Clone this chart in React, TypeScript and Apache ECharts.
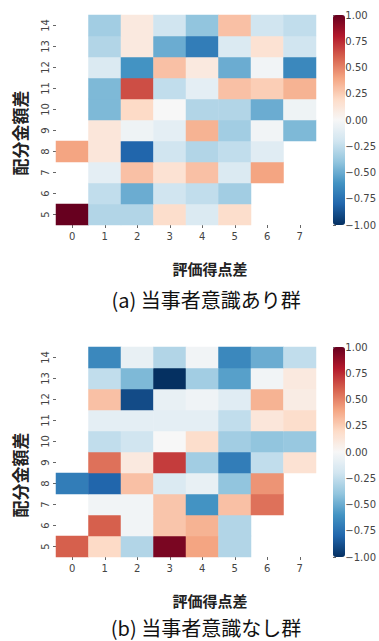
import React, { useEffect, useRef } from "react";
import * as echarts from "echarts";

const xCategories = ["0", "1", "2", "3", "4", "5", "6", "7"];
const yCategories = ["5", "6", "7", "8", "9", "10", "11", "12", "13", "14"];
const colorbarMin = -1;
const colorbarMax = 1;
const colorbarStep = 0.25;

// rows from 配分金額差 = 5 (bottom) to 14 (top); null = empty cell
const groupARows: (number | null)[][] = [
  [1.0, -0.3, -0.3, 0.18, -0.15, 0.18, null, null],
  [null, -0.25, -0.5, -0.2, -0.25, -0.35, null, null],
  [null, -0.1, 0.3, 0.15, 0.3, -0.15, 0.4, null],
  [0.4, 0.12, -0.8, -0.2, -0.3, -0.25, -0.12, null],
  [null, 0.12, -0.05, -0.1, 0.35, -0.35, -0.03, -0.45],
  [null, -0.45, 0.2, 0.0, -0.3, -0.3, -0.5, -0.05],
  [null, -0.45, 0.65, -0.25, -0.1, 0.3, 0.25, 0.35],
  [null, -0.15, -0.6, 0.3, 0.1, -0.5, -0.03, -0.65],
  [null, -0.3, 0.1, -0.5, -0.7, -0.15, 0.15, -0.2],
  [null, -0.35, 0.1, -0.2, -0.4, 0.3, -0.2, -0.25],
];

const groupBRows: (number | null)[][] = [
  [0.6, 0.2, -0.3, 0.95, 0.4, -0.3, null, null],
  [null, 0.6, -0.03, 0.28, 0.35, -0.3, null, null],
  [null, -0.03, -0.03, 0.28, -0.6, 0.3, 0.55, null],
  [-0.7, -0.8, 0.3, -0.15, -0.08, -0.4, 0.45, null],
  [null, 0.55, 0.1, 0.7, -0.35, -0.7, -0.25, 0.15],
  [null, -0.25, -0.2, 0.0, 0.18, -0.35, -0.4, -0.38],
  [null, -0.1, -0.1, -0.1, -0.1, -0.25, 0.12, 0.18],
  [null, 0.3, -0.9, -0.08, -0.04, -0.12, 0.35, 0.08],
  [null, -0.25, -0.45, -1.0, -0.35, -0.55, -0.03, 0.1],
  [null, -0.65, -0.08, -0.3, -0.03, -0.65, -0.5, -0.25],
];

const xAxisTitle = "評価得点差";
const yAxisTitle = "配分金額差";
const subtitles = ["(a) 当事者意識あり群", "(b) 当事者意識なし群"];

const rdBuR = [
  "#053061", "#2166ac", "#4393c3", "#92c5de", "#d1e5f0", "#f7f7f7",
  "#fddbc7", "#f4a582", "#d6604d", "#b2182b", "#67001f",
];

function toCells(rows: (number | null)[][]) {
  const out: [number, number, number][] = [];
  rows.forEach((row, yi) =>
    row.forEach((v, xi) => {
      if (v !== null) out.push([xi, yi, v]);
    })
  );
  return out;
}

const NUM_FONT = "DejaVu Sans";
const CJK_FONT = "Noto Sans CJK JP";

export default function App() {
  const ref = useRef<HTMLDivElement>(null);
  useEffect(() => {
    if (!ref.current) return;
    const chart = echarts.init(ref.current, undefined, { renderer: "svg" });
    const panels = [
      { top: 15, rows: groupARows, yTitleOff: 118, subOff: 284 },
      { top: 347, rows: groupBRows, yTitleOff: 128, subOff: 280 },
    ];
    const gridH = 210;
    const grids: any[] = [];
    const xAxes: any[] = [];
    const yAxes: any[] = [];
    const series: any[] = [];
    const visualMaps: any[] = [];
    const graphics: any[] = [];
    panels.forEach((p, i) => {
      grids.push({ left: 56, top: p.top, width: 260, height: gridH });
      grids.push({ left: 333, top: p.top, width: 12, height: gridH });
      xAxes.push({
        type: "category",
        gridIndex: 2 * i,
        data: xCategories,
        axisLine: { show: false },
        axisTick: { show: true, alignWithLabel: true, length: 3, lineStyle: { color: "#666" } },
        axisLabel: { fontSize: 10, color: "#444", fontFamily: NUM_FONT, margin: 6 },
        splitLine: { show: false },
      });
      xAxes.push({ type: "value", gridIndex: 2 * i + 1, show: false, min: 0, max: 1 });
      yAxes.push({
        type: "category",
        gridIndex: 2 * i,
        data: yCategories,
        axisLine: { show: false },
        axisTick: { show: true, alignWithLabel: true, length: 3, lineStyle: { color: "#666" } },
        axisLabel: { fontSize: 10, color: "#444", fontFamily: NUM_FONT, rotate: 90, margin: 6 },
        splitLine: { show: false },
      });
      yAxes.push({
        type: "value",
        gridIndex: 2 * i + 1,
        position: "right",
        min: colorbarMin,
        max: colorbarMax,
        interval: colorbarStep,
        axisLine: { show: false },
        axisTick: { show: true, length: 3, lineStyle: { color: "#666" } },
        axisLabel: {
          fontSize: 10,
          color: "#444",
          fontFamily: NUM_FONT,
          margin: 3,
          formatter: (v: number) => v.toFixed(2).replace("-", "\u2212"),
        },
        splitLine: { show: false },
      });
      series.push({
        type: "heatmap",
        xAxisIndex: 2 * i,
        yAxisIndex: 2 * i,
        data: toCells(p.rows),
        itemStyle: { borderWidth: 0 },
        emphasis: { disabled: true },
      });
      visualMaps.push({
        type: "continuous",
        seriesIndex: i,
        min: colorbarMin,
        max: colorbarMax,
        calculable: false,
        hoverLink: false,
        left: 333,
        top: p.top,
        itemWidth: 12,
        itemHeight: gridH,
        padding: 0,
        inRange: { color: rdBuR },
        textStyle: { color: "transparent" },
      });
      graphics.push({
        type: "text",
        x: 19,
        y: p.top + p.yTitleOff,
        rotation: Math.PI / 2,
        style: {
          text: yAxisTitle,
          font: `bold 17px "${CJK_FONT}"`,
          fill: "#222",
          textAlign: "center",
          textVerticalAlign: "middle",
        },
      });
      graphics.push({
        type: "text",
        x: 210,
        y: p.top + 253,
        style: {
          text: xAxisTitle,
          font: `bold 15px "${CJK_FONT}"`,
          fill: "#222",
          textAlign: "center",
          textVerticalAlign: "middle",
        },
      });
      graphics.push({
        type: "text",
        x: 206,
        y: p.top + p.subOff,
        style: {
          text: subtitles[i],
          font: `20px "${CJK_FONT}"`,
          fill: "#111",
          textAlign: "center",
          textVerticalAlign: "middle",
        },
      });
    });
    chart.setOption({
      animation: false,
      backgroundColor: "#fff",
      grid: grids,
      xAxis: xAxes,
      yAxis: yAxes,
      visualMap: visualMaps,
      series,
      graphic: graphics,
    });
    return () => chart.dispose();
  }, []);
  return <div ref={ref} style={{ width: 379, height: 641, position: "absolute", left: 0, top: 0 }} />;
}
